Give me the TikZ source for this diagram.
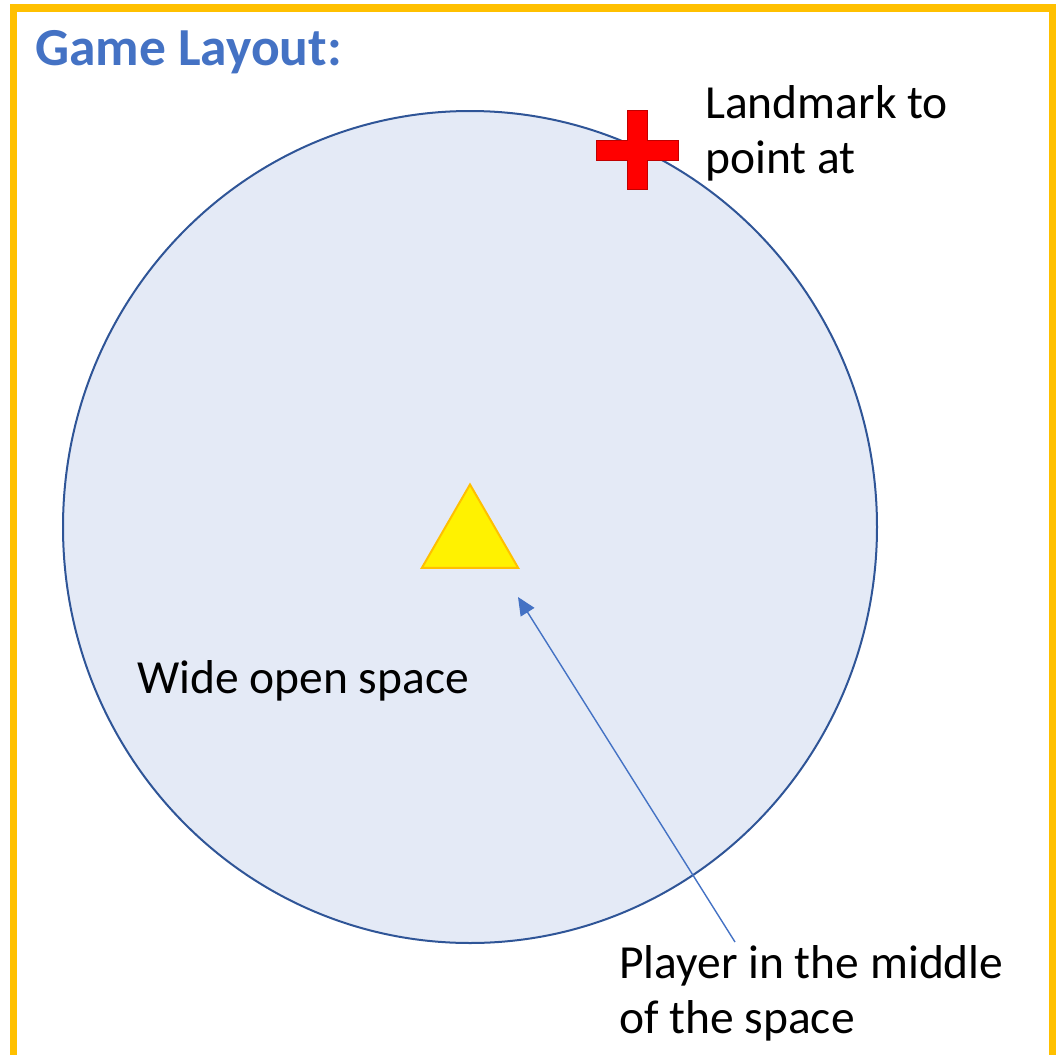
\documentclass[tikz,border=0pt]{standalone}
\usepackage{fontspec}
\setmainfont{Carlito}
\usepackage{tikz}
\usetikzlibrary{arrows.meta,positioning,shapes.geometric}
\definecolor{frameamber}{HTML}{FFC000}
\definecolor{titleblue}{HTML}{4472C4}
\definecolor{arenafill}{HTML}{E4EAF6}
\definecolor{arenaline}{HTML}{2F5597}
\definecolor{markred}{HTML}{FF0000}
\definecolor{markedge}{HTML}{C00000}
\tikzset{
  titletext/.style={
    font=\fontsize{53.5}{62}\selectfont\bfseries, text=titleblue,
    inner sep=0pt, anchor=base west
  },
  labeltext/.style={
    font=\fontsize{47.5}{55}\selectfont, align=left,
    inner sep=0pt, anchor=base west
  },
  arena/.style={
    ellipse, draw=arenaline, fill=arenafill, line width=2pt,
    minimum width=814pt, minimum height=832pt, inner sep=0pt
  },
  playerbox/.style={
    regular polygon, regular polygon sides=3, draw=frameamber,
    fill=yellow, line width=2pt, minimum size=111pt, inner sep=0pt
  },
  pointer/.style={
    -{Triangle[length=18pt,width=16pt]}, line width=1.4pt, color=titleblue
  },
}

\begin{document}
\begin{tikzpicture}[x=1pt,y=-1pt]
  \useasboundingbox (0,0) rectangle (1061,1055);

  % Frame, open at the bottom
  \draw[frameamber, line width=7.5pt] (13.5,1070) -- (13.5,8) -- (1052.5,8) -- (1052.5,1070);

  \node[titletext] (title) at (35,65) {Game Layout:};

  % Playing field
  \node[arena] (field) at (470,527) {};
  \node[playerbox] (player) at (470,540) {};

  % Landmark
  \coordinate (mark) at (637,150);
  \filldraw[fill=markred, draw=markedge, line width=1pt]
    (627,110) -- (647,110) -- (647,140) -- (678,140) -- (678,160) -- (647,160)
    -- (647,189) -- (627,189) -- (627,160) -- (596,160) -- (596,140) -- (627,140) -- cycle;

  % base anchor sits on the last line
  \node[labeltext] (marklabel) at (705,173) {Landmark to\\point at};
  \node[labeltext] (fieldlabel) at (137,693) {Wide open space};
  \node[labeltext] (playerlabel) at (619,1033) {Player in the middle\\of the space};

  \coordinate (pointerfoot) at (735,942);
  \coordinate (pointertip) at (518,597);
  \draw[pointer] (pointerfoot) -- (pointertip);
\end{tikzpicture}
\end{document}
